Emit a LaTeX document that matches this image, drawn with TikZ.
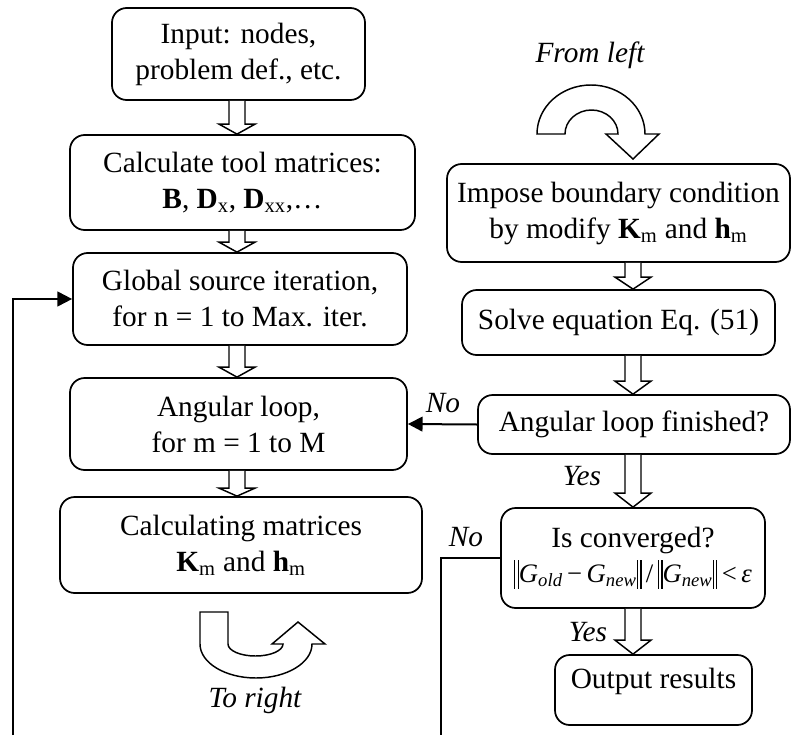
\documentclass[tikz,border=0pt]{standalone}
\usepackage{fontspec}
\setmainfont{Liberation Serif}
\usetikzlibrary{calc,arrows.meta}

% double norm bars drawn as rules
\newcommand\nbar{\rule[-0.24em]{0.045em}{1.08em}\hspace{0.09em}\rule[-0.24em]{0.045em}{1.08em}}

% hollow block arrow between two stacked boxes at the x of a reference coordinate
\newcommand\blockdown[4]{%
  \draw[blk] ($(#1.south -| #3)+(-8,0)$) -- ($(#2.north -| #3)+(-8,-#4)$)
    -- ($(#2.north -| #3)+(-18,-#4)$) -- (#2.north -| #3)
    -- ($(#2.north -| #3)+(18,-#4)$) -- ($(#2.north -| #3)+(8,-#4)$)
    -- ($(#1.south -| #3)+(8,0)$);}

\begin{document}
\begin{tikzpicture}[x=0.75pt,y=-0.75pt,
  every node/.style={font=\fontsize{22}{27}\selectfont},
  box/.style={draw, line width=1.3pt, rounded corners=11pt, fill=white,
    align=center, inner sep=0pt},
  wh/.style 2 args={minimum width=#1*0.75pt, minimum height=#2*0.75pt},
  blk/.style={draw, line width=1.1pt, fill=white, line join=miter},
  lab/.style={font=\fontsize{22}{27}\selectfont\itshape},
  link/.style={line width=1.5pt},
  tip/.style={-{Triangle[length=11pt,width=11pt]}}]

\useasboundingbox (0,0) rectangle (799,735);

% left column
\node[box, wh={253}{92}] (inp) at (238.5,54) {Input: nodes,\\problem def., etc.};
\node[box, wh={345}{95}] (tool) at (242.5,182.5) {Calculate tool matrices:\\
  \textbf{B}, \textbf{D}\textsubscript{x}, \textbf{D}\textsubscript{xx},…};
\node[box, wh={334}{92}] (glob) at (240,299) {Global source iteration,\\for n = 1 to Max. iter.};
\node[box, wh={337}{92}] (ang) at (238.5,424) {Angular loop,\\for m = 1 to M};
\node[box, wh={362}{96}] (kh) at (241,545) {Calculating matrices\\
  \textbf{K}\textsubscript{m} and \textbf{h}\textsubscript{m}};

% right column
\node[box, wh={343}{98}] (imp) at (618.5,213) {Impose boundary condition\\
  by modify \textbf{K}\textsubscript{m} and \textbf{h}\textsubscript{m}};
\node[box, wh={313}{65}] (solve) at (618.5,322.5) {Solve equation Eq. (51)};
\node[box, wh={312}{59}] (fin) at (634,424.5) {Angular loop finished?};
\node[box, wh={264}{100}] (conv) at (633,558) {Is converged?\\[-1pt]
  {\fontsize{20}{27}\selectfont\nbar\textit{G}\textsubscript{\textit{old}}\,−\,\textit{G}\textsubscript{\textit{new}}\nbar\,/\,\nbar\textit{G}\textsubscript{\textit{new}}\nbar\,<\,\textit{ε}}};
\node[box, wh={197}{70}] (out) at (653.5,690) {};
\node (outt) at (653.5,681) {Output results};

% reference columns for the block arrows
\coordinate (ax) at (237,0);
\coordinate (bx) at (633,0);

\blockdown{inp}{tool}{ax}{10}
\blockdown{tool}{glob}{ax}{10}
\blockdown{glob}{ang}{ax}{10}
\blockdown{ang}{kh}{ax}{8}
\blockdown{imp}{solve}{bx}{12}
\blockdown{solve}{fin}{bx}{13}
\blockdown{fin}{conv}{bx}{14}
\blockdown{conv}{out}{bx}{14}

% curved hand-over arrows
\draw[blk] (537,134) arc[start angle=180, end angle=360, x radius=54, y radius=49]
  -- (659,134) -- (633,159) -- (606,134) -- (618,134)
  arc[start angle=360, end angle=180, x radius=26.5, y radius=24] -- cycle;
\draw[blk] (228,612) -- (200,612) -- (200,644)
  arc[start angle=180, end angle=0, x radius=56, y radius=34]
  -- (325,644) -- (298,622) -- (272,644) -- (283,644)
  arc[start angle=0, end angle=180, x radius=27.5, y radius=12] -- cycle;

\node[lab] (fl) at (590,55) {From left};
\node[lab] (tr) at (255,700) {To right};

% feedback connectors
\coordinate (lb) at (13,735);
\coordinate (rb) at (441,735);
\draw[link, tip] (fin.west) -- (ang.east);
\draw[link, tip] (lb) |- (glob.west);
\draw[link] (conv.west) -| (rb);

\node[lab] (no1) at (443,403) {No};
\node[lab] (no2) at (466,537) {No};
\node[lab] (yes1) at (582,476) {Yes};
\node[lab] (yes2) at (588,632) {Yes};
\end{tikzpicture}
\end{document}
